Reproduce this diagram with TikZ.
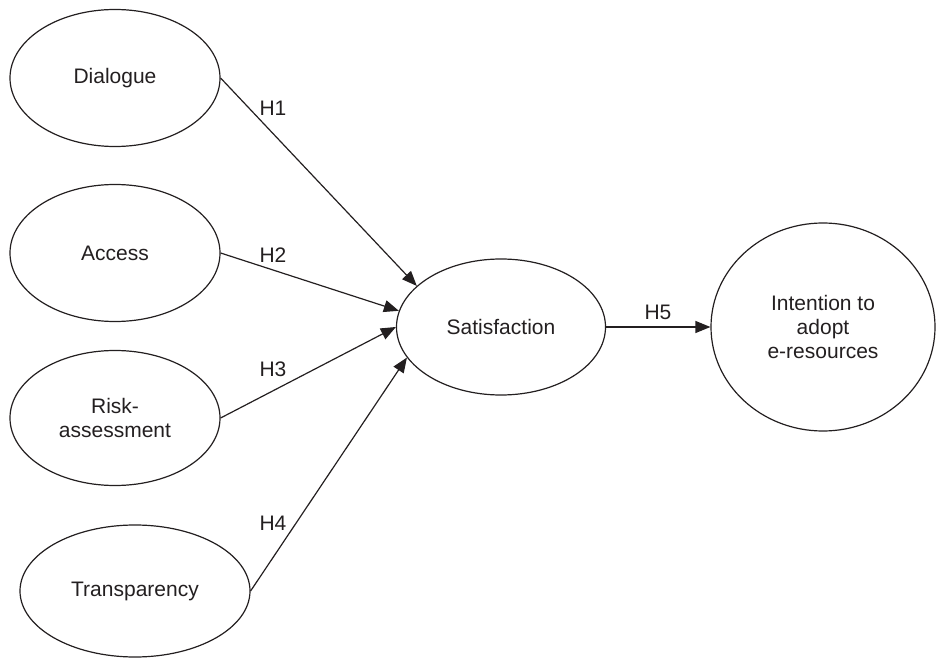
\documentclass[tikz,border=0pt]{standalone}
\usepackage{fontspec}
\setmainfont{Liberation Sans}
\usetikzlibrary{shapes.geometric,arrows.meta}
\definecolor{ink}{HTML}{231F20}
\begin{document}
\begin{tikzpicture}[x=1pt,y=-1pt,
  construct/.style={ellipse,draw=ink,line width=1.2pt,inner sep=0pt,
    text=ink,align=center,font=\fontsize{21}{24}\selectfont},
  path/.style={draw=ink,line width=1.2pt,-{Triangle[length=15pt,width=12pt]}},
  hyp/.style={text=ink,font=\fontsize{21}{24}\selectfont}]
\useasboundingbox (0,0) rectangle (937,660);
\node[construct,minimum width=210pt,minimum height=137pt] (dia) at (115,78) {Dialogue};
\node[construct,minimum width=210pt,minimum height=137pt] (acc) at (115,253) {Access};
\node[construct,minimum width=210pt,minimum height=135pt] (risk) at (115,418) {Risk-\\assessment};
\node[construct,minimum width=230pt,minimum height=132pt] (tra) at (135,591) {Transparency};
\node[construct,minimum width=209pt,minimum height=136pt] (sat) at (501,327) {Satisfaction};
\node[construct,minimum width=224pt,minimum height=208pt] (int) at (823,327) {Intention to\\adopt\\e-resources};
\draw[path] (dia.east) -- (sat.154);
\draw[path] (acc.east) -- (sat.171);
\draw[path] (risk.east) -- (sat.180);
\draw[path] (tra.east) -- (sat.198);
\draw[path] (sat.east) -- (int.west);
\node[hyp] (h1) at (273,108) {H1};
\node[hyp] (h2) at (273,255) {H2};
\node[hyp] (h3) at (273,369) {H3};
\node[hyp] (h4) at (273,523) {H4};
\node[hyp] (h5) at (658,312) {H5};
\end{tikzpicture}
\end{document}
